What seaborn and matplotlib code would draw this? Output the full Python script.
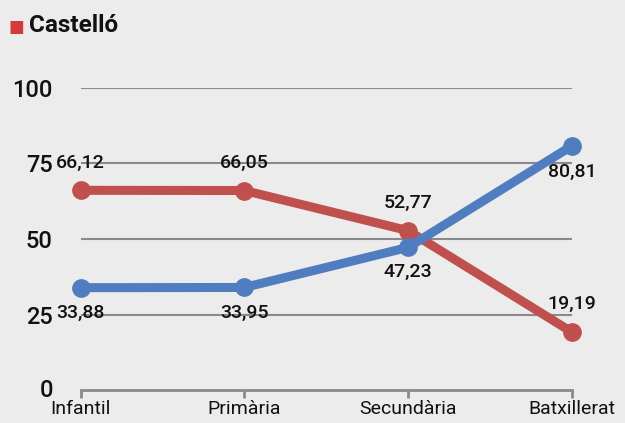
import numpy as np
import pandas as pd
import matplotlib
matplotlib.use("Agg")
import matplotlib.pyplot as plt
import seaborn as sns

# Dades
etapes = ["Infantil", "Primària", "Secundària", "Batxillerat"]
valors_vermell = [66.12, 66.05, 52.77, 19.19]
valors_blau = [33.88, 33.95, 47.23, 80.81]
y_ticks = [0, 25, 50, 75, 100]

FONS = "#ececec"
VERMELL = "#c0504d"
BLAU = "#4f7dbf"
GRIS = "#8a8a8a"
TEXT = "#111111"

sns.set_theme(style="white")
plt.rcParams["font.family"] = ["Roboto", "DejaVu Sans"]

df = pd.DataFrame({
    "etapa": etapes * 2,
    "pos": list(range(len(etapes))) * 2,
    "valor": valors_vermell + valors_blau,
    "serie": ["vermell"] * 4 + ["blau"] * 4,
})

fig = plt.figure(figsize=(6.25, 4.23), dpi=100, facecolor=FONS)
ax = fig.add_axes([0.129, 0.078, 0.786, 0.714])
ax.set_facecolor(FONS)

sns.lineplot(data=df, x="pos", y="valor", hue="serie",
             palette={"vermell": VERMELL, "blau": BLAU},
             hue_order=["vermell", "blau"],
             linewidth=6.5, marker="o", markersize=13.5,
             markeredgewidth=0, legend=False, ax=ax)
for ln in ax.lines:
    ln.set_clip_on(False)

ax.set_xlim(0, 3)
ax.set_ylim(0, 100)
ax.set_yticks(y_ticks[1:])
ax.set_yticklabels([str(v) for v in y_ticks[1:]], fontsize=17, color=TEXT,
                   fontweight="medium")
ax.set_xticks(range(len(etapes)))
ax.set_xticklabels(etapes, fontsize=14, color=TEXT)
ax.tick_params(axis="y", length=0, pad=20)
ax.tick_params(axis="x", bottom=True, length=6, width=2, color=GRIS, direction="out", pad=1)
ax.yaxis.grid(True, color=GRIS, linewidth=1.5)
ax.set_axisbelow(True)
for s in ["top", "right", "left"]:
    ax.spines[s].set_visible(False)
ax.spines["bottom"].set_color(GRIS)
ax.spines["bottom"].set_linewidth(2)
ax.set_xlabel("")
ax.set_ylabel("")

# "0" etiqueta a l'esquerra
ax.text(-0.17, 0, "0", fontsize=17, fontweight="medium", ha="right", va="center",
        transform=ax.transData, color=TEXT)

# Etiquetes de valors
def fmt(v):
    return f"{v:.2f}".replace(".", ",")

offs_vermell = [20, 20, 20, 20]
offs_blau = [-18, -18, -18, -19]
for i, (vr, vb) in enumerate(zip(valors_vermell, valors_blau)):
    ax.annotate(fmt(vr), (i, vr), xytext=(0, offs_vermell[i]), textcoords="offset points",
                ha="center", va="center", fontsize=14, fontweight="medium",
                color=TEXT, annotation_clip=False)
    ax.annotate(fmt(vb), (i, vb), xytext=(0, offs_blau[i]), textcoords="offset points",
                ha="center", va="center", fontsize=14, fontweight="medium",
                color=TEXT, annotation_clip=False)

# Títol
fig.text(0.013, 0.935, "■", color="#d33a3a", fontsize=12, va="center", ha="left")
fig.text(0.047, 0.94, "Castelló", fontsize=17.5, fontweight="bold", va="center", ha="left",
         color=TEXT)

fig.savefig("out.png", dpi=100, facecolor=FONS)
